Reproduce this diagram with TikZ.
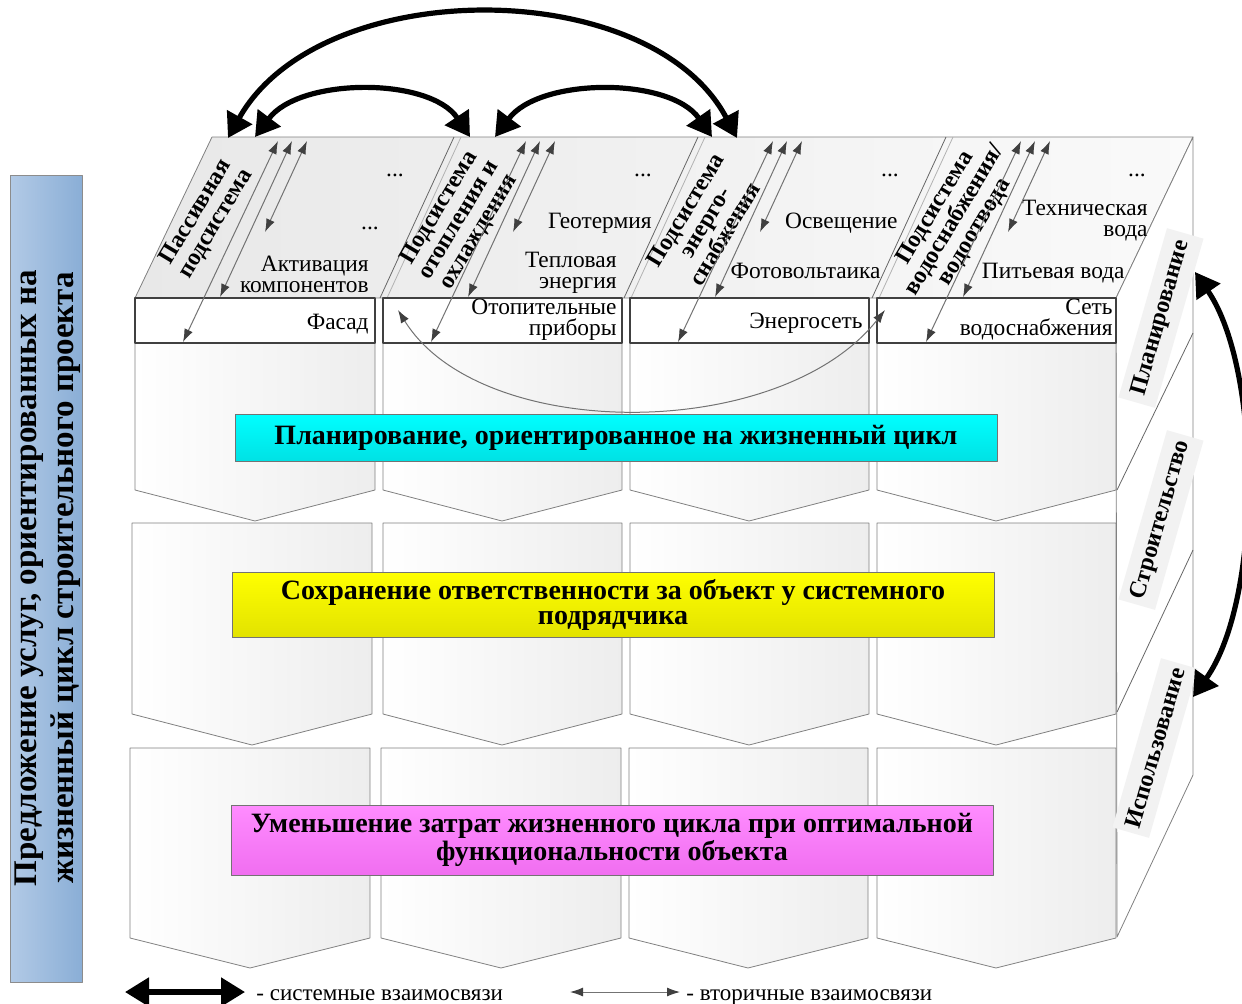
\documentclass[tikz,border=0pt]{standalone}
\usepackage{fontspec}
\setmainfont{Liberation Serif}
\usepackage{tikz}
\usetikzlibrary{arrows,arrows.meta}

\definecolor{svcleft}{RGB}{178,202,230}
\definecolor{svcright}{RGB}{138,174,214}
\definecolor{plancyan}{RGB}{0,255,255}
\definecolor{plancyandk}{RGB}{0,225,228}
\definecolor{keepyellow}{RGB}{255,255,0}
\definecolor{keepyellowdk}{RGB}{226,226,0}
\definecolor{costpink}{RGB}{255,140,255}
\definecolor{costpinkdk}{RGB}{240,110,240}

\begin{document}
\begin{tikzpicture}[x=0.5pt,y=-0.5pt,>=latex',line join=round]
\tikzstyle{block}=[draw=black!50,line width=0.4pt,left color=white,right color=black!7]
\tikzstyle{strip}=[draw=black!75,line width=0.9pt,fill=white]
\tikzstyle{item}=[align=right,inner sep=0pt]
\tikzstyle{dots}=[anchor=base,inner sep=0pt]
\tikzstyle{subsys}=[rotate=59,align=center,inner sep=0pt,font=\bfseries\fontsize{12}{11.5}\selectfont]
\tikzstyle{banner}=[draw=black!55,line width=0.4pt,minimum width=381pt,align=center,inner sep=2pt,font=\bfseries\fontsize{14}{12.5}\selectfont]
\tikzstyle{phase}=[rotate=74,fill=black!5,minimum width=88pt,minimum height=19pt,inner sep=1pt,font=\bfseries\fontsize{12}{12}\selectfont]
\tikzstyle{sys}=[{Triangle[length=12pt,width=14pt]}-{Triangle[length=12pt,width=14pt]},line width=2.6pt,black]
\tikzstyle{sec}=[{Latex[length=6.5pt,width=4.5pt,color=black!75]}-{Latex[length=6.5pt,width=4.5pt,color=black!75]},draw=black!55,line width=0.5pt]
\tikzset{font=\fontsize{11.7}{10.5}\selectfont}

\useasboundingbox (0,0) rectangle (1242,1003);

% left box
\draw[draw=black!45,left color=svcleft,right color=svcright] (10,175) rectangle (82,982);
\node[rotate=90,align=center,inner sep=0pt,font=\bfseries\fontsize{16.5}{18.5}\selectfont] (svc) at (48,578)
  {Предложение услуг, ориентированных на\\жизненный цикл строительного проекта};

% top face, side face
\draw[draw=black!50,left color=black!9,right color=black!2] (135,298) -- (212,137) -- (1193,137) -- (1116,298) -- cycle;
\draw[draw=black!50,fill=white] (1116,298) -- (1193,137) -- (1193,775) -- (1117,937) -- cycle;
\draw[black!60] (1117,490) -- (1193,333);
\draw[black!60] (1117,712) -- (1193,550);
\draw[black!60] (380,298) -- (454,137);
\draw[black!30] (387,298) -- (461,137);
\draw[black!60] (624,298) -- (698,137);
\draw[black!30] (631,298) -- (705,137);
\draw[black!60] (872,298) -- (946,137);
\draw[black!30] (879,298) -- (953,137);

% chevrons
\draw[block] (135,343) -- (375,343) -- (375,490) -- (255,521) -- (135,490) -- cycle;
\draw[block] (383,343) -- (622,343) -- (622,490) -- (502,521) -- (383,490) -- cycle;
\draw[block] (630,343) -- (869,343) -- (869,490) -- (749,521) -- (630,490) -- cycle;
\draw[block] (877,343) -- (1116,343) -- (1116,490) -- (996,521) -- (877,490) -- cycle;

\draw[block] (132,523) -- (372,523) -- (372,714) -- (252,745) -- (132,714) -- cycle;
\draw[block] (383,523) -- (622,523) -- (622,714) -- (502,745) -- (383,714) -- cycle;
\draw[block] (630,523) -- (869,523) -- (869,714) -- (749,745) -- (630,714) -- cycle;
\draw[block] (877,523) -- (1116,523) -- (1116,714) -- (996,745) -- (877,714) -- cycle;

\draw[block] (130,748) -- (370,748) -- (370,938) -- (250,968) -- (130,938) -- cycle;
\draw[block] (381,748) -- (621,748) -- (621,938) -- (501,968) -- (381,938) -- cycle;
\draw[block] (629,748) -- (868,748) -- (868,938) -- (748,968) -- (629,938) -- cycle;
\draw[block] (877,748) -- (1116,748) -- (1116,938) -- (996,968) -- (877,938) -- cycle;

% strips
\draw[strip] (135,298) rectangle (375,343);
\draw[strip] (383,298) rectangle (622,343);
\draw[strip] (630,298) rectangle (869,343);
\draw[strip] (877,298) rectangle (1116,343);

% subsystems
\node[subsys] (pass)  at (206,218) {Пассивная\\подсистема};
\node[subsys] (heat)  at (459,220) {Подсистема\\отопления и\\охлаждения};
\node[subsys] (power) at (705,222) {Подсистема\\энерго-\\снабжения};
\node[subsys] (water) at (955,220) {Подсистема\\водоснабжения/\\водоотвода};

% items
\node[dots] (d1a) at (395,176) {...};
\node[dots] (d1b) at (370,229) {...};
\node[item,anchor=east] (act) at (369,274) {Активация\\компонентов};
\node[item,anchor=base east] (fac) at (369,329) {Фасад};

\node[dots] (d2a) at (643,176) {...};
\node[item,anchor=base east] (geo) at (652,228) {Геотермия};
\node[item,anchor=east] (therm) at (617,273) {Тепловая\\энергия};
\node[item,anchor=east] (rad) at (617,320) {Отопительные\\приборы};

\node[dots] (d3a) at (890,176) {...};
\node[item,anchor=base east] (light) at (898,228) {Освещение};
\node[item,anchor=base east] (pv) at (881,278) {Фотовольтаика};
\node[item,anchor=base east] (grid) at (863,328) {Энергосеть};

\node[dots] (d4a) at (1137,176) {...};
\node[item,anchor=east] (tech) at (1148,221) {Техническая\\вода};
\node[item,anchor=base east] (drink) at (1125,278) {Питьевая вода};
\node[item,anchor=east] (net) at (1113,320) {Сеть\\водоснабжения};

% banners
\node[banner,minimum height=23.5pt,top color=plancyan,bottom color=plancyandk] (plan) at (616,438)
  {Планирование, ориентированное на жизненный цикл};
\node[banner,minimum height=32.5pt,top color=keepyellow,bottom color=keepyellowdk] (keep) at (613,605)
  {Сохранение ответственности за объект у системного\\подрядчика};
\node[banner,minimum height=35pt,top color=costpink,bottom color=costpinkdk] (cost) at (612,840)
  {Уменьшение затрат жизненного цикла при оптимальной\\функциональности объекта};

% phases
\node[phase] (ph1) at (1161,318) {Планирование};
\node[phase] (ph2) at (1161,520) {Строительство};
\node[phase] (ph3) at (1155,748) {Использование};

% arrow ends
\coordinate (pass-l) at (228,138);
\coordinate (pass-r) at (255,137);
\coordinate (heat-l) at (470,137);
\coordinate (heat-r) at (495,137);
\coordinate (power-l) at (712,137);
\coordinate (power-r) at (737,138);
\coordinate (ph-top) at (1195,272);
\coordinate (ph-bot) at (1193,697);
\coordinate (rad-in) at (398,310);
\coordinate (net-in) at (885,310);

\coordinate (c1t1) at (307,141); \coordinate (c1b1) at (265,232);
\coordinate (c1t2) at (292,141); \coordinate (c1b2) at (220,297);
\coordinate (c1t3) at (278,141); \coordinate (c1b3) at (183,342);
\coordinate (c2t1) at (555,141); \coordinate (c2b1) at (513,232);
\coordinate (c2t2) at (540,141); \coordinate (c2b2) at (468,297);
\coordinate (c2t3) at (526,141); \coordinate (c2b3) at (431,342);
\coordinate (c3t1) at (802,141); \coordinate (c3b1) at (760,232);
\coordinate (c3t2) at (787,141); \coordinate (c3b2) at (715,297);
\coordinate (c3t3) at (773,141); \coordinate (c3b3) at (678,342);
\coordinate (c4t1) at (1050,141); \coordinate (c4b1) at (1008,232);
\coordinate (c4t2) at (1035,141); \coordinate (c4b2) at (963,297);
\coordinate (c4t3) at (1021,141); \coordinate (c4b3) at (926,342);

% secondary links
\draw[sec] (c1t1) -- (c1b1);
\draw[sec] (c1t2) -- (c1b2);
\draw[sec] (c1t3) -- (c1b3);
\draw[sec] (c2t1) -- (c2b1);
\draw[sec] (c2t2) -- (c2b2);
\draw[sec] (c2t3) -- (c2b3);
\draw[sec] (c3t1) -- (c3b1);
\draw[sec] (c3t2) -- (c3b2);
\draw[sec] (c3t3) -- (c3b3);
\draw[sec] (c4t1) -- (c4b1);
\draw[sec] (c4t2) -- (c4b2);
\draw[sec] (c4t3) -- (c4b3);
\draw[sec] (rad-in) .. controls (480,443) and (780,443) .. (net-in);

% system links
\draw[sys] (pass-l) .. controls (320,-26) and (650,-26) .. (power-r);
\draw[sys] (pass-r) .. controls (300,77) and (430,77) .. (heat-l);
\draw[sys] (heat-r) .. controls (540,77) and (670,77) .. (power-l);
\draw[sys] (ph-top) .. controls (1262,370) and (1262,600) .. (ph-bot);

% legend
\coordinate (lgs-a) at (125,992);
\coordinate (lgs-b) at (245,992);
\coordinate (lgv-a) at (570,992);
\coordinate (lgv-b) at (680,992);
\draw[sys] (lgs-a) -- (lgs-b);
\draw[sec] (lgv-a) -- (lgv-b);
\node[anchor=base west,inner sep=0pt,font=\fontsize{11.5}{12}\selectfont] (lgs) at (256,1000) {- системные взаимосвязи};
\node[anchor=base west,inner sep=0pt,font=\fontsize{11.5}{12}\selectfont] (lgv) at (686,1000) {- вторичные взаимосвязи};

\end{tikzpicture}
\end{document}
